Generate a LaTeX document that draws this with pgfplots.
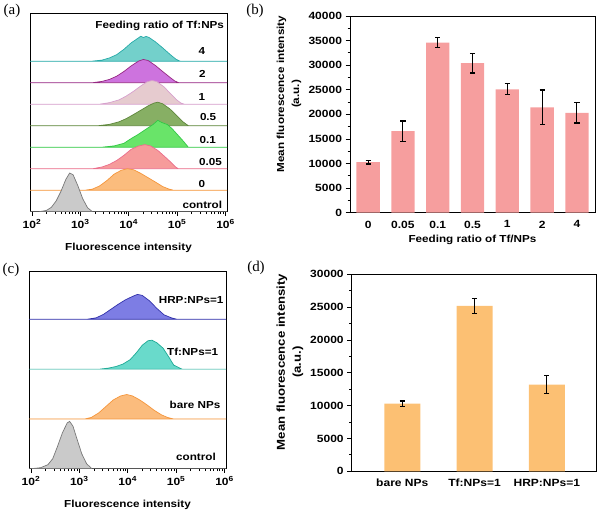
\documentclass[border=0pt]{standalone}
\usepackage{fontspec}
\setmainfont{Liberation Sans}[FakeStretch=1.15]
\newfontfamily\panelfont{Liberation Serif}
\usepackage{pgfplots}
\pgfplotsset{compat=1.18}

% histogram colours: line / fill
\definecolor{lFour}{RGB}{38,170,168}   \definecolor{fFour}{RGB}{115,208,203}
\definecolor{lTwo}{RGB}{150,40,130}    \definecolor{fTwo}{RGB}{205,115,222}
\definecolor{lOne}{RGB}{215,160,205}   \definecolor{fOne}{RGB}{230,203,207}
\definecolor{lHalf}{RGB}{95,135,60}    \definecolor{fHalf}{RGB}{135,175,100}
\definecolor{lTenth}{RGB}{50,200,70}   \definecolor{fTenth}{RGB}{105,228,105}
\definecolor{lFive}{RGB}{235,110,140}  \definecolor{fFive}{RGB}{246,155,155}
\definecolor{lZero}{RGB}{245,150,60}   \definecolor{fZero}{RGB}{251,188,125}
\definecolor{lCtrl}{RGB}{120,120,120}  \definecolor{fCtrl}{RGB}{202,202,202}
\definecolor{lHRP}{RGB}{50,50,170}     \definecolor{fHRP}{RGB}{125,125,228}
\definecolor{lTf}{RGB}{30,170,150}     \definecolor{fTf}{RGB}{105,218,203}
\definecolor{barRed}{RGB}{246,158,158}
\definecolor{barOrange}{RGB}{252,192,115}

\pgfplotsset{
  every axis/.append style={
    font=\fontsize{10.2}{12}\selectfont\bfseries,
    axis line style={line width=0.9bp},
    tick style={line width=0.8bp, black},
    tick label style={font=\fontsize{10.5}{12}\selectfont\bfseries},
  },
  hist/.style={
    scale only axis, anchor=south west, width=197bp,
    xmin=1.96, xmax=6.03, ymin=0,
    xtick={2,3,4,5,6},
    xticklabels={10\textsuperscript{2},10\textsuperscript{3},10\textsuperscript{4},10\textsuperscript{5},10\textsuperscript{6}},
    minor xtick={2.301,2.477,2.602,2.699,2.778,2.845,2.903,2.954,
                 3.301,3.477,3.602,3.699,3.778,3.845,3.903,3.954,
                 4.301,4.477,4.602,4.699,4.778,4.845,4.903,4.954,
                 5.301,5.477,5.602,5.699,5.778,5.845,5.903,5.954},
    ytick=\empty, tick align=outside, xtick pos=left,
    major tick length=4bp, minor tick length=2.5bp,
    xlabel={Fluorescence intensity},
    xlabel style={at={(axis description cs:0.5,0)}, anchor=center, yshift=-36bp},
  },
  hp/.style={line width=0.7bp},
  bars/.style={
    scale only axis, anchor=south west, ybar, ymin=0,
    xtick=data, tick align=outside, ytick pos=left, xtick pos=left,
    xtick style={draw=none},
    minor y tick num=1, major tick length=4.5bp, minor tick length=2.5bp,
    scaled y ticks=false,
    /pgf/number format/assume math mode=true,
    /pgf/number format/1000 sep={},
    error bars/y dir=both, error bars/y explicit,
    error bars/error bar style={line width=1.1bp, black},
    error bars/error mark options={rotate=90, mark size=2.6bp, line width=1.1bp, black},
  },
}

\begin{document}
\begin{tikzpicture}
\useasboundingbox (0,0) rectangle (600bp,514bp);

% ---------------- (a)
\begin{axis}[hist, height=198.7bp, ymax=9.24, at={(30bp,302.3bp)}]
\addplot[hp, draw=lFour, fill=fFour, y filter/.expression={y+7}] coordinates {
 (1.96,0)(3.24,0)(3.45,0.05)(3.6,0.15)(3.75,0.3)(3.9,0.55)(4.05,0.85)(4.2,1.08)(4.25,1.16)(4.3,1.1)
 (4.36,1.15)(4.42,1.1)(4.55,0.9)(4.7,0.62)(4.85,0.32)(4.97,0.1)(5.06,0)(6.03,0)} -- cycle;
\addplot[hp, draw=lTwo, fill=fTwo, y filter/.expression={y+6}] coordinates {
 (1.96,0)(3.26,0)(3.45,0.06)(3.6,0.15)(3.75,0.3)(3.9,0.52)(4.05,0.78)(4.2,1.0)(4.3,1.08)(4.4,1.03)
 (4.55,0.8)(4.7,0.52)(4.85,0.25)(4.95,0.08)(5.03,0)(6.03,0)} -- cycle;
\addplot[hp, draw=lOne, fill=fOne, y filter/.expression={y+5}] coordinates {
 (1.96,0)(3.4,0)(3.6,0.07)(3.8,0.2)(3.95,0.38)(4.1,0.6)(4.25,0.85)(4.38,1.04)(4.48,1.1)(4.58,1.05)
 (4.72,0.82)(4.86,0.5)(4.98,0.22)(5.08,0.05)(5.15,0)(6.03,0)} -- cycle;
\addplot[hp, draw=lHalf, fill=fHalf, y filter/.expression={y+4}] coordinates {
 (1.96,0)(3.37,0)(3.6,0.06)(3.8,0.18)(3.95,0.33)(4.1,0.52)(4.25,0.72)(4.4,0.92)(4.52,1.05)(4.6,1.09)
 (4.7,1.02)(4.85,0.78)(5.0,0.45)(5.12,0.18)(5.23,0)(6.03,0)} -- cycle;
\addplot[hp, draw=lTenth, fill=fTenth, y filter/.expression={y+3}] coordinates {
 (1.96,0)(3.45,0)(3.7,0.06)(3.9,0.18)(4.05,0.4)(4.2,0.6)(4.38,0.87)(4.5,1.05)(4.6,1.25)(4.68,1.15)
 (4.8,1.05)(4.9,0.85)(5.0,0.6)(5.12,0.3)(5.23,0)(6.03,0)} -- cycle;
\addplot[hp, draw=lFive, fill=fFive, y filter/.expression={y+2}] coordinates {
 (1.96,0)(3.26,0)(3.45,0.08)(3.6,0.2)(3.75,0.38)(3.9,0.62)(4.05,0.9)(4.2,1.05)(4.33,1.12)(4.45,1.06)
 (4.6,0.85)(4.75,0.55)(4.88,0.28)(4.97,0.08)(5.02,0)(6.03,0)} -- cycle;
\addplot[hp, draw=lZero, fill=fZero, y filter/.expression={y+1}] coordinates {
 (1.96,0)(3.1,0)(3.25,0.05)(3.4,0.2)(3.55,0.45)(3.7,0.75)(3.85,0.93)(3.97,1.0)(4.1,0.95)(4.25,0.78)
 (4.4,0.58)(4.55,0.38)(4.7,0.17)(4.82,0.06)(4.92,0)(6.03,0)} -- cycle;
\addplot[hp, draw=lCtrl, fill=fCtrl] coordinates {
 (1.96,0)(2.15,0)(2.3,0.06)(2.4,0.2)(2.5,0.5)(2.6,0.95)(2.7,1.5)(2.78,1.8)(2.85,1.72)(2.95,1.2)
 (3.05,0.6)(3.15,0.18)(3.25,0)(6.03,0)} -- cycle;
\node at (axis cs:4.64,8.65) {Feeding ratio of Tf:NPs};
\node at (axis cs:5.51,7.49) {4};
\node at (axis cs:5.52,6.42) {2};
\node at (axis cs:5.51,5.32) {1};
\node at (axis cs:5.64,4.39) {0.5};
\node at (axis cs:5.63,3.33) {0.1};
\node at (axis cs:5.69,2.29) {0.05};
\node at (axis cs:5.51,1.30) {0};
\node at (axis cs:5.52,0.33) {control};
\end{axis}

% ---------------- (b)
\begin{axis}[bars, at={(350bp,301.3bp)}, width=245bp, height=196.7bp,
  xmin=-0.52, xmax=6.52, ymax=40000, ytick={0,5000,...,40000},
  xticklabels={0,0.05,0.1,0.5,1,2,4},
  xlabel={Feeding ratio of Tf/NPs},
  xlabel style={at={(axis description cs:0.5,0)}, anchor=center, yshift=-27.3bp}]
\addplot[fill=barRed, draw=none, bar width=23.3bp] coordinates {
 (0,10300) +- (0,400)
 (1,16600) +- (0,2050)
 (2,34600) +- (0,1000)
 (3,30400) +- (0,2000)
 (4,25100) +- (0,1150)
 (5,21400) +- (0,3550)
 (6,20300) +- (0,2050)};
\end{axis}
\node[rotate=90, align=center, font=\fontsize{10.2}{15}\selectfont\bfseries]
  at (289bp,420bp) {Mean fluorescence intensity\\(a.u.)};

% ---------------- (c)
\begin{axis}[hist, height=197.7bp, ymax=3.97, at={(29bp,45.3bp)}]
\addplot[hp, draw=lHRP, fill=fHRP, y filter/.expression={y+3}] coordinates {
 (1.96,0)(3.15,0)(3.35,0.03)(3.5,0.1)(3.65,0.2)(3.8,0.3)(3.95,0.39)(4.1,0.46)(4.2,0.5)(4.3,0.48)
 (4.45,0.37)(4.6,0.22)(4.75,0.09)(4.9,0.03)(5.02,0)(6.03,0)} -- cycle;
\addplot[hp, draw=lTf, fill=fTf, y filter/.expression={y+2}] coordinates {
 (1.96,0)(3.43,0)(3.6,0.02)(3.75,0.05)(3.9,0.1)(4.05,0.19)(4.18,0.33)(4.3,0.48)(4.42,0.57)(4.5,0.58)
 (4.6,0.53)(4.73,0.42)(4.85,0.24)(4.95,0.08)(5.12,0)(6.03,0)} -- cycle;
\addplot[hp, draw=lZero, fill=fZero, y filter/.expression={y+1}] coordinates {
 (1.96,0)(3.12,0)(3.25,0.03)(3.4,0.12)(3.55,0.25)(3.7,0.38)(3.85,0.46)(3.98,0.49)(4.1,0.46)(4.25,0.38)
 (4.4,0.28)(4.55,0.17)(4.7,0.08)(4.82,0.03)(4.94,0)(6.03,0)} -- cycle;
\addplot[hp, draw=lCtrl, fill=fCtrl] coordinates {
 (1.96,0)(2.0,0)(2.2,0.02)(2.35,0.08)(2.45,0.2)(2.55,0.45)(2.65,0.72)(2.75,0.92)(2.8,0.95)(2.87,0.85)
 (2.95,0.6)(3.05,0.3)(3.15,0.1)(3.26,0)(6.03,0)} -- cycle;
\node at (axis cs:5.31,3.39) {HRP:NPs=1};
\node at (axis cs:5.34,2.35) {Tf:NPs=1};
\node at (axis cs:5.39,1.29) {bare NPs};
\node at (axis cs:5.41,0.24) {control};
\end{axis}

% ---------------- (d)
\begin{axis}[bars, at={(351.7bp,42.7bp)}, width=244.3bp, height=197bp,
  xmin=-0.7, xmax=2.68, ymax=30000, ytick={0,5000,...,30000},
  xticklabels={bare NPs,Tf:NPs=1,HRP:NPs=1}]
\addplot[fill=barOrange, draw=none, bar width=36bp] coordinates {
 (0,10300) +- (0,400)
 (1,25200) +- (0,1150)
 (2,13200) +- (0,1350)};
\end{axis}
\node[rotate=90, align=center, font=\fontsize{11.5}{16}\selectfont\bfseries]
  at (290bp,152bp) {Mean fluorescence intensity\\(a.u.)};

% panel letters
\begin{scope}[every node/.style={font=\panelfont\fontsize{15}{16}\selectfont}]
\node at (12bp,503bp) {(a)};
\node at (255bp,503bp) {(b)};
\node at (11bp,244bp) {(c)};
\node at (256bp,246bp) {(d)};
\end{scope}
\end{tikzpicture}
\end{document}
